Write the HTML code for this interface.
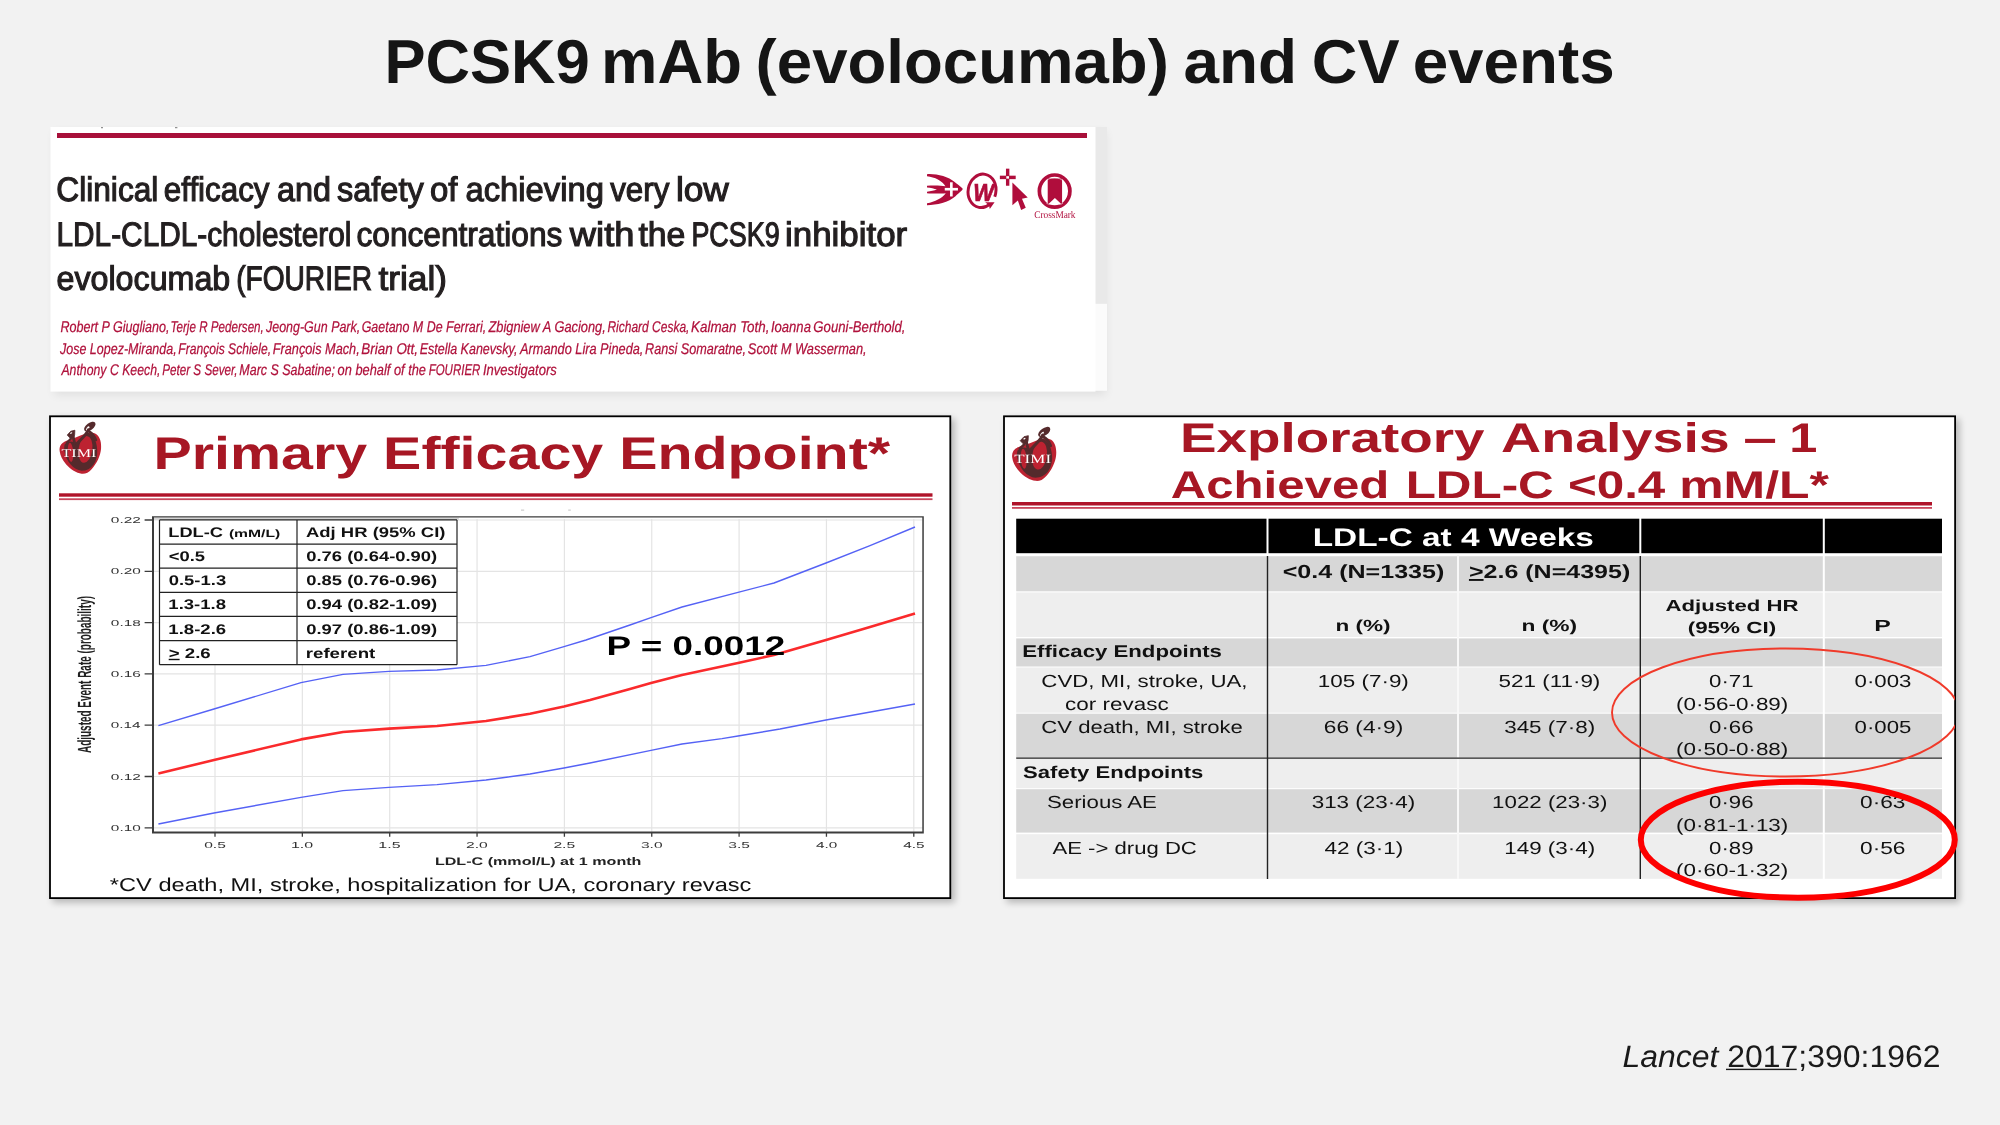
<!DOCTYPE html>
<html lang="en"><head><meta charset="utf-8"><title>PCSK9 mAb (evolocumab) and CV events</title>
<style>
html,body{margin:0;padding:0;background:#f2f2f2;}
body{width:2000px;height:1125px;overflow:hidden;font-family:"Liberation Sans",sans-serif;}
svg{display:block;font-family:"Liberation Sans",sans-serif;will-change:transform;}
svg text{text-rendering:geometricPrecision;}
</style></head><body>
<svg width="2000" height="1125" viewBox="0 0 2000 1125">
<defs>
<filter id="sh" x="-5%" y="-5%" width="112%" height="115%"><feGaussianBlur stdDeviation="3.5"/></filter>
<filter id="sh2" x="-5%" y="-10%" width="110%" height="125%"><feGaussianBlur stdDeviation="5"/></filter>
<clipPath id="cpR"><rect x="1005" y="417" width="950" height="480"/></clipPath>
</defs>

<text x="384.44" y="83.4" font-size="62" fill="#151515" font-weight="bold" textLength="205.44" lengthAdjust="spacingAndGlyphs">PCSK9</text>
<text x="601.07" y="83.4" font-size="62" fill="#151515" font-weight="bold" textLength="141.05" lengthAdjust="spacingAndGlyphs">mAb</text>
<text x="755.62" y="83.4" font-size="62" fill="#151515" font-weight="bold" textLength="413.23" lengthAdjust="spacingAndGlyphs">(evolocumab)</text>
<text x="1183.48" y="83.4" font-size="62" fill="#151515" font-weight="bold" textLength="113.7" lengthAdjust="spacingAndGlyphs">and</text>
<text x="1311.87" y="83.4" font-size="62" fill="#151515" font-weight="bold" textLength="87.75" lengthAdjust="spacingAndGlyphs">CV</text>
<text x="1412.65" y="83.4" font-size="62" fill="#151515" font-weight="bold" textLength="201.97" lengthAdjust="spacingAndGlyphs">events</text>
<rect x="54" y="132" width="1052" height="263" fill="#000" opacity="0.075" filter="url(#sh2)"/>
<rect x="1095" y="127" width="12" height="177" fill="#e9e9e9"/><rect x="1095" y="303.8" width="12" height="87" fill="#fbfbfb"/>
<rect x="50.5" y="127" width="1045" height="264.6" fill="#ffffff"/>
<rect x="57" y="133" width="1030" height="5" fill="#a8103a"/>
<rect x="101" y="127.2" width="2" height="1" fill="#777"/><rect x="175" y="127.2" width="2.4" height="1" fill="#777"/>
<text x="56.32" y="201" font-size="34" fill="#231f20" textLength="102.04" lengthAdjust="spacingAndGlyphs" stroke="#231f20" stroke-width="1.15">Clinical</text>
<text x="163.87" y="201" font-size="34" fill="#231f20" textLength="105.6" lengthAdjust="spacingAndGlyphs" stroke="#231f20" stroke-width="1.15">efficacy</text>
<text x="277.02" y="201" font-size="34" fill="#231f20" textLength="54.03" lengthAdjust="spacingAndGlyphs" stroke="#231f20" stroke-width="1.15">and</text>
<text x="337.11" y="201" font-size="34" fill="#231f20" textLength="86.49" lengthAdjust="spacingAndGlyphs" stroke="#231f20" stroke-width="1.15">safety</text>
<text x="430.0" y="201" font-size="34" fill="#231f20" textLength="27.47" lengthAdjust="spacingAndGlyphs" stroke="#231f20" stroke-width="1.15">of</text>
<text x="465.41" y="201" font-size="34" fill="#231f20" textLength="138.45" lengthAdjust="spacingAndGlyphs" stroke="#231f20" stroke-width="1.15">achieving</text>
<text x="610.22" y="201" font-size="34" fill="#231f20" textLength="59.13" lengthAdjust="spacingAndGlyphs" stroke="#231f20" stroke-width="1.15">very</text>
<text x="675.92" y="201" font-size="34" fill="#231f20" textLength="52.91" lengthAdjust="spacingAndGlyphs" stroke="#231f20" stroke-width="1.15">low</text>
<text x="56.54" y="245.5" font-size="34" fill="#231f20" textLength="294.8" lengthAdjust="spacingAndGlyphs" stroke="#231f20" stroke-width="1.15">LDL-CLDL-cholesterol</text>
<text x="356.45" y="245.5" font-size="34" fill="#231f20" textLength="205.93" lengthAdjust="spacingAndGlyphs" stroke="#231f20" stroke-width="1.15">concentrations</text>
<text x="569.89" y="245.5" font-size="34" fill="#231f20" textLength="64.51" lengthAdjust="spacingAndGlyphs" stroke="#231f20" stroke-width="1.15">with</text>
<text x="638.39" y="245.5" font-size="34" fill="#231f20" textLength="46.95" lengthAdjust="spacingAndGlyphs" stroke="#231f20" stroke-width="1.15">the</text>
<text x="691.38" y="245.5" font-size="34" fill="#231f20" textLength="88.28" lengthAdjust="spacingAndGlyphs" stroke="#231f20" stroke-width="1.15">PCSK9</text>
<text x="785.05" y="245.5" font-size="34" fill="#231f20" textLength="122.16" lengthAdjust="spacingAndGlyphs" stroke="#231f20" stroke-width="1.15">inhibitor</text>
<text x="56.53" y="290" font-size="34" fill="#231f20" textLength="173.73" lengthAdjust="spacingAndGlyphs" stroke="#231f20" stroke-width="1.15">evolocumab</text>
<text x="236.14" y="290" font-size="34" fill="#231f20" textLength="135.91" lengthAdjust="spacingAndGlyphs" stroke="#231f20" stroke-width="1.15">(FOURIER</text>
<text x="378.47" y="290" font-size="34" fill="#231f20" textLength="68.52" lengthAdjust="spacingAndGlyphs" stroke="#231f20" stroke-width="1.15">trial)</text>
<text x="60.42" y="331.5" font-size="15.5" fill="#b0123c" font-style="italic" textLength="109.02" lengthAdjust="spacingAndGlyphs" stroke="#b0123c" stroke-width="0.25">Robert P Giugliano,</text>
<text x="170.45" y="331.5" font-size="15.5" fill="#b0123c" font-style="italic" textLength="93.39" lengthAdjust="spacingAndGlyphs" stroke="#b0123c" stroke-width="0.25">Terje R Pedersen,</text>
<text x="266.03" y="331.5" font-size="15.5" fill="#b0123c" font-style="italic" textLength="94.2" lengthAdjust="spacingAndGlyphs" stroke="#b0123c" stroke-width="0.25">Jeong-Gun Park,</text>
<text x="361.68" y="331.5" font-size="15.5" fill="#b0123c" font-style="italic" textLength="124.47" lengthAdjust="spacingAndGlyphs" stroke="#b0123c" stroke-width="0.25">Gaetano M De Ferrari,</text>
<text x="488.46" y="331.5" font-size="15.5" fill="#b0123c" font-style="italic" textLength="117.33" lengthAdjust="spacingAndGlyphs" stroke="#b0123c" stroke-width="0.25">Zbigniew A Gaciong,</text>
<text x="607.44" y="331.5" font-size="15.5" fill="#b0123c" font-style="italic" textLength="81.95" lengthAdjust="spacingAndGlyphs" stroke="#b0123c" stroke-width="0.25">Richard Ceska,</text>
<text x="691.1" y="331.5" font-size="15.5" fill="#b0123c" font-style="italic" textLength="78.35" lengthAdjust="spacingAndGlyphs" stroke="#b0123c" stroke-width="0.25">Kalman Toth,</text>
<text x="770.88" y="331.5" font-size="15.5" fill="#b0123c" font-style="italic" textLength="40.07" lengthAdjust="spacingAndGlyphs" stroke="#b0123c" stroke-width="0.25">Ioanna</text>
<text x="813.34" y="331.5" font-size="15.5" fill="#b0123c" font-style="italic" textLength="92.16" lengthAdjust="spacingAndGlyphs" stroke="#b0123c" stroke-width="0.25">Gouni-Berthold,</text>
<text x="60.03" y="353.6" font-size="15.5" fill="#b0123c" font-style="italic" textLength="116.62" lengthAdjust="spacingAndGlyphs" stroke="#b0123c" stroke-width="0.25">Jose Lopez-Miranda,</text>
<text x="178.34" y="353.6" font-size="15.5" fill="#b0123c" font-style="italic" textLength="92.76" lengthAdjust="spacingAndGlyphs" stroke="#b0123c" stroke-width="0.25">François Schiele,</text>
<text x="272.82" y="353.6" font-size="15.5" fill="#b0123c" font-style="italic" textLength="86.85" lengthAdjust="spacingAndGlyphs" stroke="#b0123c" stroke-width="0.25">François Mach,</text>
<text x="361.3" y="353.6" font-size="15.5" fill="#b0123c" font-style="italic" textLength="56.77" lengthAdjust="spacingAndGlyphs" stroke="#b0123c" stroke-width="0.25">Brian Ott,</text>
<text x="419.63" y="353.6" font-size="15.5" fill="#b0123c" font-style="italic" textLength="97.73" lengthAdjust="spacingAndGlyphs" stroke="#b0123c" stroke-width="0.25">Estella Kanevsky,</text>
<text x="520.04" y="353.6" font-size="15.5" fill="#b0123c" font-style="italic" textLength="123.33" lengthAdjust="spacingAndGlyphs" stroke="#b0123c" stroke-width="0.25">Armando Lira Pineda,</text>
<text x="645.02" y="353.6" font-size="15.5" fill="#b0123c" font-style="italic" textLength="101.12" lengthAdjust="spacingAndGlyphs" stroke="#b0123c" stroke-width="0.25">Ransi Somaratne,</text>
<text x="747.85" y="353.6" font-size="15.5" fill="#b0123c" font-style="italic" textLength="118.82" lengthAdjust="spacingAndGlyphs" stroke="#b0123c" stroke-width="0.25">Scott M Wasserman,</text>
<text x="61.41" y="375.2" font-size="15.5" fill="#b0123c" font-style="italic" textLength="99.01" lengthAdjust="spacingAndGlyphs" stroke="#b0123c" stroke-width="0.25">Anthony C Keech,</text>
<text x="162.15" y="375.2" font-size="15.5" fill="#b0123c" font-style="italic" textLength="75.4" lengthAdjust="spacingAndGlyphs" stroke="#b0123c" stroke-width="0.25">Peter S Sever,</text>
<text x="239.33" y="375.2" font-size="15.5" fill="#b0123c" font-style="italic" textLength="95.59" lengthAdjust="spacingAndGlyphs" stroke="#b0123c" stroke-width="0.25">Marc S Sabatine;</text>
<text x="337.58" y="375.2" font-size="15.5" fill="#b0123c" font-style="italic" textLength="88.4" lengthAdjust="spacingAndGlyphs" stroke="#b0123c" stroke-width="0.25">on behalf of the</text>
<text x="428.66" y="375.2" font-size="15.5" fill="#b0123c" font-style="italic" textLength="51.69" lengthAdjust="spacingAndGlyphs" stroke="#b0123c" stroke-width="0.25">FOURIER</text>
<text x="482.88" y="375.2" font-size="15.5" fill="#b0123c" font-style="italic" textLength="73.88" lengthAdjust="spacingAndGlyphs" stroke="#b0123c" stroke-width="0.25">Investigators</text>
<g transform="translate(920,160) scale(0.0825)">
<path d="M85 172C200 165 340 200 420 268C470 310 510 335 518 352C510 375 470 400 430 440C350 512 200 548 85 548L85 525C180 505 270 462 312 402C250 408 150 408 85 402L85 384C130 380 175 370 205 358C175 346 130 336 85 332L85 312C150 306 250 306 308 318C270 252 180 206 85 196Z" fill="#b00d3c"/>
<rect x="300" y="338" width="160" height="32" fill="#fff"/><rect x="364" y="270" width="32" height="172" fill="#fff"/>
<ellipse cx="752" cy="374" rx="168" ry="204" transform="rotate(11 752 374)" fill="none" stroke="#b00d3c" stroke-width="36" pathLength="1000" stroke-dasharray="905 95" stroke-dashoffset="-130"/>
<path d="M790 512L904 512L846 594L836 548Z" fill="#b00d3c"/>
<text x="645" y="495" font-size="300" font-weight="bold" font-style="italic" fill="#b00d3c" stroke="#b00d3c" stroke-width="8" textLength="250" lengthAdjust="spacingAndGlyphs">W</text>
<rect x="968" y="190" width="192" height="42" fill="#b00d3c"/><rect x="1042" y="105" width="41" height="207" fill="#b00d3c"/><rect x="1046" y="196" width="33" height="30" fill="#fff"/>
<path d="M1120 272L1120 548L1186 492L1226 606L1282 580L1236 470L1306 455Z" fill="#b00d3c"/>
<ellipse cx="1632" cy="377" rx="185" ry="195" fill="#fff" stroke="#b00d3c" stroke-width="45"/>
<path d="M1548 222L1722 222L1722 542L1635 462L1548 542Z" fill="#b00d3c"/>
<path d="M1520 262C1570 200 1690 200 1745 262M1530 520C1560 545 1600 550 1635 480M1735 520C1705 545 1670 550 1635 480" stroke="#fff" stroke-width="9" fill="none" opacity="0.8"/>
<text x="1385" y="705" font-family="Liberation Serif" font-size="124" fill="#b00d3c" textLength="500" lengthAdjust="spacingAndGlyphs">CrossMark</text>
</g>
<rect x="52.6" y="418.9" width="902.1" height="483.6" fill="#000" opacity="0.25" filter="url(#sh)"/>
<rect x="50.0" y="416.29999999999995" width="900.3" height="481.8" fill="#fff" stroke="#000" stroke-width="1.8"/>
<rect x="1006.6" y="418.9" width="952.9" height="483.6" fill="#000" opacity="0.25" filter="url(#sh)"/>
<rect x="1004.0" y="416.29999999999995" width="951.1" height="481.8" fill="#fff" stroke="#000" stroke-width="1.8"/>
<text x="153.43" y="468.5" font-size="45.8" fill="#a71724" font-weight="bold" textLength="736.71" lengthAdjust="spacingAndGlyphs">Primary Efficacy Endpoint*</text>
<rect x="59" y="493.3" width="873.5" height="3.4" fill="#b0142a"/>
<rect x="59" y="498.3" width="873.5" height="1.8" fill="#c9475c"/>
<path d="M215.00 519V832.5M302.35 519V832.5M389.70 519V832.5M477.05 519V832.5M564.40 519V832.5M651.75 519V832.5M739.10 519V832.5M826.45 519V832.5M913.80 519V832.5M152.8 827.80H922.8M152.8 776.50H922.8M152.8 725.20H922.8M152.8 673.90H922.8M152.8 622.60H922.8M152.8 571.30H922.8M152.8 520.00H922.8" stroke="#e4e4e4" stroke-width="1.2" fill="none"/>
<rect x="153.8" y="517.6" width="305" height="2.2" fill="#d4d4d4"/>
<rect x="521" y="509.6" width="3.2" height="1" fill="#c4c4c4"/><rect x="568.2" y="509.6" width="2.6" height="1" fill="#c4c4c4"/>
<path d="M158.4 725.6 L214 709 L301 682.6 L343 674.4 L389 671.4 L437 670 L486 665.4 L530 656.6 L564 646.6 L586 640 L630 625 L651 617.6 L682 607 L738 592.4 L774 583 L826 563 L870 545.6 L915 527" stroke="#5562f5" stroke-width="1.4" fill="none" stroke-linejoin="round"/>
<path d="M158.4 824 L214 813 L301 797.4 L343 790.6 L389 787.4 L437 784.6 L486 780 L530 774 L564 768 L590 763 L651 750.4 L682 744 L722 738.6 L738 736 L780 729 L826 720 L915 704" stroke="#5562f5" stroke-width="1.4" fill="none" stroke-linejoin="round"/>
<path d="M158.4 773.6 L214 760 L301 739.4 L343 732 L389 728.6 L437 726 L486 721 L530 713.8 L564 706.4 L590 700 L630 689 L651 683 L682 675 L738 663 L774 655 L826 640 L870 627 L915 613.6" stroke="#fa2a2c" stroke-width="2.6" fill="none" stroke-linejoin="round"/>
<path d="M152 516.2H923.8V517.4H152ZM152 516.2H154V833.4H152ZM152 831.5H923.8V833.4H152ZM922.3 516.2H923.8V833.4H922.3Z" fill="#3c3c3c"/>
<path d="M144.6 827.80H152.8M144.6 776.50H152.8M144.6 725.20H152.8M144.6 673.90H152.8M144.6 622.60H152.8M144.6 571.30H152.8M144.6 520.00H152.8M215.00 832.5V836.8M302.35 832.5V836.8M389.70 832.5V836.8M477.05 832.5V836.8M564.40 832.5V836.8M651.75 832.5V836.8M739.10 832.5V836.8M826.45 832.5V836.8M913.80 832.5V836.8" stroke="#3c3c3c" stroke-width="1.3" fill="none"/>
<text x="110.89" y="830.9" font-size="8.6" fill="#333" textLength="29.91" lengthAdjust="spacingAndGlyphs">0.10</text>
<text x="110.88" y="779.6" font-size="8.6" fill="#333" textLength="30.11" lengthAdjust="spacingAndGlyphs">0.12</text>
<text x="110.89" y="728.3" font-size="8.6" fill="#333" textLength="29.75" lengthAdjust="spacingAndGlyphs">0.14</text>
<text x="110.88" y="677.0" font-size="8.6" fill="#333" textLength="29.99" lengthAdjust="spacingAndGlyphs">0.16</text>
<text x="110.88" y="625.7" font-size="8.6" fill="#333" textLength="29.99" lengthAdjust="spacingAndGlyphs">0.18</text>
<text x="110.89" y="574.4" font-size="8.6" fill="#333" textLength="29.91" lengthAdjust="spacingAndGlyphs">0.20</text>
<text x="110.88" y="523.1" font-size="8.6" fill="#333" textLength="30.11" lengthAdjust="spacingAndGlyphs">0.22</text>
<text x="204.18" y="848" font-size="8.6" fill="#333" textLength="21.65" lengthAdjust="spacingAndGlyphs">0.5</text>
<text x="290.95" y="848" font-size="8.6" fill="#333" textLength="22.2" lengthAdjust="spacingAndGlyphs">1.0</text>
<text x="378.3" y="848" font-size="8.6" fill="#333" textLength="22.24" lengthAdjust="spacingAndGlyphs">1.5</text>
<text x="466.07" y="848" font-size="8.6" fill="#333" textLength="21.77" lengthAdjust="spacingAndGlyphs">2.0</text>
<text x="553.42" y="848" font-size="8.6" fill="#333" textLength="21.82" lengthAdjust="spacingAndGlyphs">2.5</text>
<text x="640.97" y="848" font-size="8.6" fill="#333" textLength="21.57" lengthAdjust="spacingAndGlyphs">3.0</text>
<text x="728.32" y="848" font-size="8.6" fill="#333" textLength="21.61" lengthAdjust="spacingAndGlyphs">3.5</text>
<text x="815.9" y="848" font-size="8.6" fill="#333" textLength="21.32" lengthAdjust="spacingAndGlyphs">4.0</text>
<text x="903.25" y="848" font-size="8.6" fill="#333" textLength="21.36" lengthAdjust="spacingAndGlyphs">4.5</text>
<text x="434.91" y="865" font-size="11" fill="#222" font-weight="bold" textLength="206.55" lengthAdjust="spacingAndGlyphs">LDL-C (mmol/L) at 1 month</text>
<text transform="translate(91,753) rotate(-90)" font-size="19" fill="#222" font-weight="bold" textLength="157" lengthAdjust="spacingAndGlyphs">Adjusted Event Rate (probability)</text>
<rect x="159.5" y="519.9" width="297.5" height="144.78" fill="#fff"/>
<path d="M159.5 519.90H457M159.5 544.03H457M159.5 568.16H457M159.5 592.29H457M159.5 616.42H457M159.5 640.55H457M159.5 664.68H457M159.5 519.90V664.68M297 519.90V664.68M457 519.90V664.68" stroke="#222" stroke-width="1.2" fill="none"/>
<text x="168.27" y="536.8" font-size="14" fill="#111" font-weight="bold" textLength="54.72" lengthAdjust="spacingAndGlyphs">LDL-C</text>
<text x="228.92" y="536.8" font-size="10.6" fill="#111" font-weight="bold" textLength="51.36" lengthAdjust="spacingAndGlyphs">(mM/L)</text>
<text x="306.04" y="536.8" font-size="14" fill="#111" font-weight="bold" textLength="139.41" lengthAdjust="spacingAndGlyphs">Adj HR (95% CI)</text>
<text x="168.72" y="561.0" font-size="14" fill="#111" font-weight="bold" textLength="36.32" lengthAdjust="spacingAndGlyphs">&lt;0.5</text>
<text x="306.26" y="561.0" font-size="14" fill="#111" font-weight="bold" textLength="130.97" lengthAdjust="spacingAndGlyphs">0.76 (0.64-0.90)</text>
<text x="168.76" y="585.2" font-size="14" fill="#111" font-weight="bold" textLength="57.4" lengthAdjust="spacingAndGlyphs">0.5-1.3</text>
<text x="306.26" y="585.2" font-size="14" fill="#111" font-weight="bold" textLength="130.97" lengthAdjust="spacingAndGlyphs">0.85 (0.76-0.96)</text>
<text x="168.34" y="609.4" font-size="14" fill="#111" font-weight="bold" textLength="57.73" lengthAdjust="spacingAndGlyphs">1.3-1.8</text>
<text x="306.26" y="609.4" font-size="14" fill="#111" font-weight="bold" textLength="130.97" lengthAdjust="spacingAndGlyphs">0.94 (0.82-1.09)</text>
<text x="168.34" y="633.6" font-size="14" fill="#111" font-weight="bold" textLength="57.83" lengthAdjust="spacingAndGlyphs">1.8-2.6</text>
<text x="306.26" y="633.6" font-size="14" fill="#111" font-weight="bold" textLength="130.97" lengthAdjust="spacingAndGlyphs">0.97 (0.86-1.09)</text>
<text x="168.71" y="657.8" font-size="14" fill="#111" font-weight="bold" textLength="41.98" lengthAdjust="spacingAndGlyphs"><tspan text-decoration="underline">&gt;</tspan> 2.6</text>
<text x="305.79" y="657.8" font-size="14" fill="#111" font-weight="bold" textLength="69.47" lengthAdjust="spacingAndGlyphs">referent</text>
<text x="606.51" y="654.5" font-size="27" fill="#000" font-weight="bold" textLength="178.76" lengthAdjust="spacingAndGlyphs">P = 0.0012</text>
<text x="109.89" y="890.6" font-size="18.5" fill="#111" textLength="641.54" lengthAdjust="spacingAndGlyphs">*CV death, MI, stroke, hospitalization for UA, coronary revasc</text>
<text x="1180.1" y="451.8" font-size="41.4" fill="#a71724" font-weight="bold" textLength="304.3" lengthAdjust="spacingAndGlyphs">Exploratory</text>
<text x="1501.11" y="451.8" font-size="41.4" fill="#a71724" font-weight="bold" textLength="228.67" lengthAdjust="spacingAndGlyphs">Analysis</text>
<text x="1743.18" y="451.8" font-size="41.4" fill="#a71724" font-weight="bold" textLength="33.71" lengthAdjust="spacingAndGlyphs">–</text>
<text x="1789.34" y="451.8" font-size="41.4" fill="#a71724" font-weight="bold" textLength="28.11" lengthAdjust="spacingAndGlyphs">1</text>
<text x="1170.77" y="497.5" font-size="38.4" fill="#a71724" font-weight="bold" textLength="218.49" lengthAdjust="spacingAndGlyphs">Achieved</text>
<text x="1405.67" y="497.5" font-size="38.4" fill="#a71724" font-weight="bold" textLength="148.15" lengthAdjust="spacingAndGlyphs">LDL-C</text>
<text x="1567.9" y="497.5" font-size="38.4" fill="#a71724" font-weight="bold" textLength="97.43" lengthAdjust="spacingAndGlyphs">&lt;0.4</text>
<text x="1679.26" y="497.5" font-size="38.4" fill="#a71724" font-weight="bold" textLength="149.67" lengthAdjust="spacingAndGlyphs">mM/L*</text>
<rect x="1012" y="502" width="920" height="3.5" fill="#b0142a"/>
<rect x="1012" y="507" width="920" height="1.8" fill="#c9475c"/>
<rect x="1016.2" y="518.7" width="925.8" height="360.1" fill="#fff"/>
<rect x="1016.2" y="518.7" width="925.8" height="34.5" fill="#000"/>
<rect x="1016.2" y="556.2" width="925.8" height="35.1" fill="#d7d7d7"/>
<rect x="1016.2" y="592.5" width="925.8" height="44.5" fill="#eeeeee"/>
<rect x="1016.2" y="638.4" width="925.8" height="28.1" fill="#d7d7d7"/>
<rect x="1016.2" y="667.5" width="925.8" height="45.2" fill="#eeeeee"/>
<rect x="1016.2" y="713.7" width="925.8" height="43.9" fill="#d7d7d7"/>
<rect x="1016.2" y="759" width="925.8" height="29.2" fill="#eeeeee"/>
<rect x="1016.2" y="789.2" width="925.8" height="43.4" fill="#d7d7d7"/>
<rect x="1016.2" y="834.2" width="925.8" height="44.6" fill="#eeeeee"/>
<path d="M1267.5 517V555M1640.3 517V555M1823.8 517V879M1458 555V879" stroke="#fff" stroke-width="2" fill="none"/>
<path d="M1458 555V879" stroke="#f6f6f6" stroke-width="1.5" fill="none"/>
<path d="M1267.5 556V879M1640.3 556V879" stroke="#222" stroke-width="1.4" fill="none"/>
<path d="M1016.2 758.2H1942" stroke="#222" stroke-width="1.3" fill="none"/>
<text x="1312.75" y="546.3" font-size="25.5" fill="#fff" font-weight="bold" textLength="281.12" lengthAdjust="spacingAndGlyphs">LDL-C at 4 Weeks</text>
<text x="1282.74" y="578" font-size="19" fill="#111" font-weight="bold" textLength="161.55" lengthAdjust="spacingAndGlyphs">&lt;0.4 (N=1335)</text>
<text x="1468.94" y="578" font-size="19" fill="#111" font-weight="bold" textLength="161.35" lengthAdjust="spacingAndGlyphs"><tspan text-decoration="underline">&gt;</tspan>2.6 (N=4395)</text>
<text x="1335.53" y="631" font-size="16" fill="#111" font-weight="bold" textLength="55.13" lengthAdjust="spacingAndGlyphs">n (%)</text>
<text x="1521.52" y="631" font-size="16" fill="#111" font-weight="bold" textLength="55.65" lengthAdjust="spacingAndGlyphs">n (%)</text>
<text x="1665.45" y="611" font-size="16" fill="#111" font-weight="bold" textLength="133.06" lengthAdjust="spacingAndGlyphs">Adjusted HR</text>
<text x="1687.68" y="632.5" font-size="16" fill="#111" font-weight="bold" textLength="88.45" lengthAdjust="spacingAndGlyphs">(95% CI)</text>
<text x="1874.33" y="631" font-size="16" fill="#111" font-weight="bold" textLength="16.53" lengthAdjust="spacingAndGlyphs">P</text>
<text x="1022.3" y="657" font-size="17" fill="#111" font-weight="bold" textLength="199.62" lengthAdjust="spacingAndGlyphs">Efficacy Endpoints</text>
<text x="1023.14" y="778" font-size="17" fill="#111" font-weight="bold" textLength="180.25" lengthAdjust="spacingAndGlyphs">Safety Endpoints</text>
<text x="1041.39" y="687" font-size="17.5" fill="#111" textLength="206.1" lengthAdjust="spacingAndGlyphs">CVD, MI, stroke, UA,</text>
<text x="1065.05" y="710" font-size="17.5" fill="#111" textLength="103.57" lengthAdjust="spacingAndGlyphs">cor revasc</text>
<text x="1041.39" y="732.5" font-size="17.5" fill="#111" textLength="201.55" lengthAdjust="spacingAndGlyphs">CV death, MI, stroke</text>
<text x="1047.0" y="808" font-size="17.5" fill="#111" textLength="109.94" lengthAdjust="spacingAndGlyphs">Serious AE</text>
<text x="1052.44" y="853.8" font-size="17.5" fill="#111" textLength="144.39" lengthAdjust="spacingAndGlyphs">AE -&gt; drug DC</text>
<text x="1317.82" y="687" font-size="17.5" fill="#111" textLength="91.03" lengthAdjust="spacingAndGlyphs">105 (7·9)</text>
<text x="1498.6" y="687" font-size="17.5" fill="#111" textLength="101.73" lengthAdjust="spacingAndGlyphs">521 (11·9)</text>
<text x="1709.11" y="687" font-size="17.5" fill="#111" textLength="44.48" lengthAdjust="spacingAndGlyphs">0·71</text>
<text x="1676.1" y="709.5" font-size="17.5" fill="#111" textLength="112.24" lengthAdjust="spacingAndGlyphs">(0·56-0·89)</text>
<text x="1854.61" y="687" font-size="17.5" fill="#111" textLength="56.84" lengthAdjust="spacingAndGlyphs">0·003</text>
<text x="1323.87" y="732.5" font-size="17.5" fill="#111" textLength="79.33" lengthAdjust="spacingAndGlyphs">66 (4·9)</text>
<text x="1504.16" y="732.5" font-size="17.5" fill="#111" textLength="90.99" lengthAdjust="spacingAndGlyphs">345 (7·8)</text>
<text x="1709.11" y="732.5" font-size="17.5" fill="#111" textLength="44.36" lengthAdjust="spacingAndGlyphs">0·66</text>
<text x="1676.1" y="755" font-size="17.5" fill="#111" textLength="112.24" lengthAdjust="spacingAndGlyphs">(0·50-0·88)</text>
<text x="1854.61" y="732.5" font-size="17.5" fill="#111" textLength="56.78" lengthAdjust="spacingAndGlyphs">0·005</text>
<text x="1311.66" y="808" font-size="17.5" fill="#111" textLength="103.52" lengthAdjust="spacingAndGlyphs">313 (23·4)</text>
<text x="1492.13" y="808" font-size="17.5" fill="#111" textLength="115.21" lengthAdjust="spacingAndGlyphs">1022 (23·3)</text>
<text x="1709.11" y="808" font-size="17.5" fill="#111" textLength="44.36" lengthAdjust="spacingAndGlyphs">0·96</text>
<text x="1676.1" y="830.5" font-size="17.5" fill="#111" textLength="112.24" lengthAdjust="spacingAndGlyphs">(0·81-1·13)</text>
<text x="1860.09" y="808" font-size="17.5" fill="#111" textLength="45.41" lengthAdjust="spacingAndGlyphs">0·63</text>
<text x="1324.49" y="853.8" font-size="17.5" fill="#111" textLength="78.69" lengthAdjust="spacingAndGlyphs">42 (3·1)</text>
<text x="1504.32" y="853.8" font-size="17.5" fill="#111" textLength="90.83" lengthAdjust="spacingAndGlyphs">149 (3·4)</text>
<text x="1709.11" y="853.8" font-size="17.5" fill="#111" textLength="44.42" lengthAdjust="spacingAndGlyphs">0·89</text>
<text x="1676.1" y="875.5" font-size="17.5" fill="#111" textLength="112.24" lengthAdjust="spacingAndGlyphs">(0·60-1·32)</text>
<text x="1860.09" y="853.8" font-size="17.5" fill="#111" textLength="45.41" lengthAdjust="spacingAndGlyphs">0·56</text>
<ellipse cx="1785.5" cy="712.5" rx="173.5" ry="64" fill="none" stroke="#f03a2a" stroke-width="1.9" clip-path="url(#cpR)"/>
<g transform="translate(52,416) scale(0.056882821387940846,0.056882821387940846)">
<path d="M135 620C122 520 170 455 300 420C400 392 480 352 560 322C640 292 720 285 780 320C850 370 872 480 862 580C850 700 790 830 700 930C640 1000 580 1022 520 1014C430 1002 330 942 250 852C180 772 146 700 135 620Z" fill="#bd2231"/>
<path d="M222 500C290 425 380 440 432 492C490 420 550 350 615 296C700 300 785 400 795 600C805 800 700 962 520 962C380 952 250 800 218 620C212 575 214 530 222 500Z" fill="#552a2c"/>
<ellipse cx="588" cy="588" rx="121" ry="236" transform="rotate(8 588 588)" fill="#bd2231"/>
<ellipse cx="326" cy="640" rx="48" ry="170" transform="rotate(-4 322 640)" fill="#bd2231"/>
<ellipse cx="665" cy="186" rx="116" ry="62" transform="rotate(-36 665 186)" fill="#552a2c"/>
<ellipse cx="628" cy="220" rx="44" ry="20" transform="rotate(-52 628 220)" fill="#fff"/>
<path d="M640 240C610 320 520 400 432 492" stroke="#552a2c" stroke-width="52" fill="none" stroke-linecap="round"/>
<path d="M650 270C700 300 740 340 770 420" stroke="#552a2c" stroke-width="50" fill="none" stroke-linecap="round"/>
<path d="M268 335L330 268L402 250L398 330L380 390L330 400Z" fill="#552a2c" stroke="#552a2c" stroke-width="14" stroke-linejoin="round"/>
<ellipse cx="338" cy="300" rx="20" ry="11" transform="rotate(-30 338 300)" fill="#fff"/>
<path d="M368 350L400 480" stroke="#552a2c" stroke-width="48" fill="none" stroke-linecap="round"/>
<path d="M330 400L260 470" stroke="#552a2c" stroke-width="40" fill="none" stroke-linecap="round"/>
<text x="168" y="716" font-family="Liberation Serif" font-size="212" fill="#fff" textLength="612" lengthAdjust="spacingAndGlyphs">TIMI</text>
</g>
<g transform="translate(1004.0467576791808,420.8799772468714) scale(0.06040955631399318,0.059158134243458484)">
<path d="M135 620C122 520 170 455 300 420C400 392 480 352 560 322C640 292 720 285 780 320C850 370 872 480 862 580C850 700 790 830 700 930C640 1000 580 1022 520 1014C430 1002 330 942 250 852C180 772 146 700 135 620Z" fill="#bd2231"/>
<path d="M222 500C290 425 380 440 432 492C490 420 550 350 615 296C700 300 785 400 795 600C805 800 700 962 520 962C380 952 250 800 218 620C212 575 214 530 222 500Z" fill="#552a2c"/>
<ellipse cx="588" cy="588" rx="121" ry="236" transform="rotate(8 588 588)" fill="#bd2231"/>
<ellipse cx="326" cy="640" rx="48" ry="170" transform="rotate(-4 322 640)" fill="#bd2231"/>
<ellipse cx="665" cy="186" rx="116" ry="62" transform="rotate(-36 665 186)" fill="#552a2c"/>
<ellipse cx="628" cy="220" rx="44" ry="20" transform="rotate(-52 628 220)" fill="#fff"/>
<path d="M640 240C610 320 520 400 432 492" stroke="#552a2c" stroke-width="52" fill="none" stroke-linecap="round"/>
<path d="M650 270C700 300 740 340 770 420" stroke="#552a2c" stroke-width="50" fill="none" stroke-linecap="round"/>
<path d="M268 335L330 268L402 250L398 330L380 390L330 400Z" fill="#552a2c" stroke="#552a2c" stroke-width="14" stroke-linejoin="round"/>
<ellipse cx="338" cy="300" rx="20" ry="11" transform="rotate(-30 338 300)" fill="#fff"/>
<path d="M368 350L400 480" stroke="#552a2c" stroke-width="48" fill="none" stroke-linecap="round"/>
<path d="M330 400L260 470" stroke="#552a2c" stroke-width="40" fill="none" stroke-linecap="round"/>
<text x="168" y="716" font-family="Liberation Serif" font-size="212" fill="#fff" textLength="612" lengthAdjust="spacingAndGlyphs">TIMI</text>
</g>
<ellipse cx="1797.8" cy="839.7" rx="157" ry="58" fill="none" stroke="#fd0000" stroke-width="6"/>
<text x="1622.5" y="1067" font-size="31" fill="#1a1a1a" textLength="318" lengthAdjust="spacingAndGlyphs"><tspan font-style="italic">Lancet</tspan> 2017;390:1962</text>
<rect x="1726" y="1068.7" width="70.7" height="1.4" fill="#1a1a1a"/>
</svg></body></html>
